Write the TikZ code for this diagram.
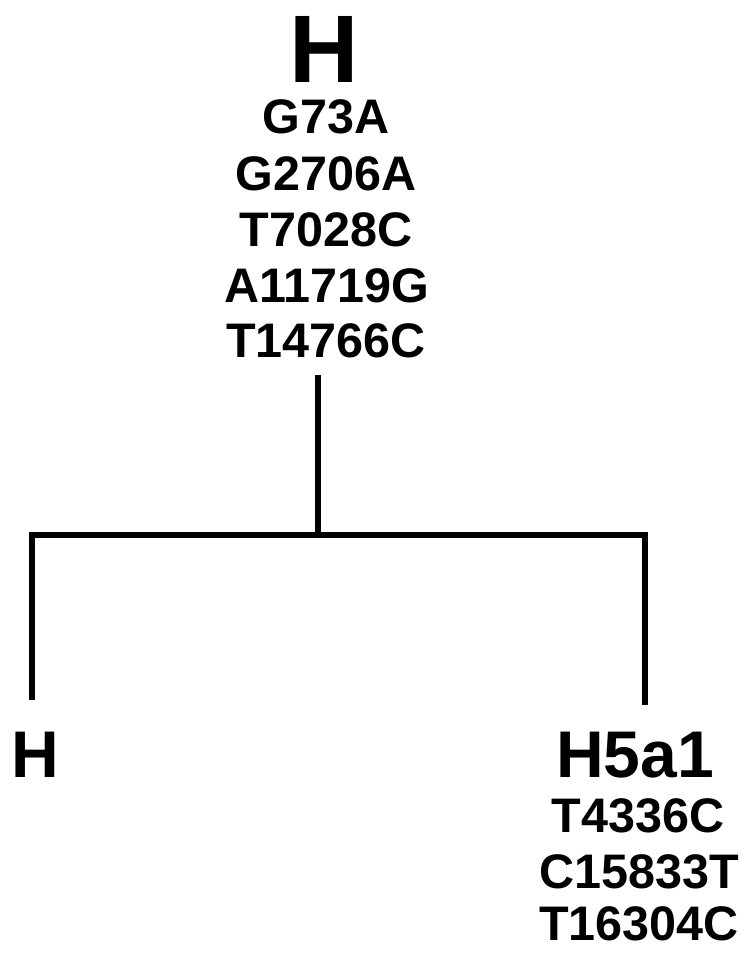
\documentclass[tikz,border=0pt]{standalone}
\usepackage{fontspec}
\setmainfont{Liberation Sans}
\begin{document}
\begin{tikzpicture}[x=1pt,y=-1pt,
  big/.style={font=\fontsize{96}{96}\selectfont\bfseries, inner sep=0pt, anchor=base},
  mid/.style={font=\fontsize{66}{66}\selectfont\bfseries, inner sep=0pt, anchor=base},
  mut/.style={font=\fontsize{48.5}{48.5}\selectfont\bfseries, inner sep=0pt, anchor=base},
  branch/.style={line width=5.5pt, line join=miter, line cap=butt}]
\path[use as bounding box] (0,0) rectangle (745,954);
% root
\node[big] (rootH) at (324,82) {H};
\node[mut] (m1) at (326,133) {G73A};
\node[mut] (m2) at (326,190) {G2706A};
\node[mut] (m3) at (326,246) {T7028C};
\node[mut] (m4) at (327,302) {A11719G};
\node[mut] (m5) at (326,357) {T14766C};
% leaves
\node[mid] (leafH) at (35,777) {H};
\node[mid] (leafH5) at (635,777) {H5a1};
\node[mut] (n1) at (638,832) {T4336C};
\node[mut] (n2) at (639,888) {C15833T};
\node[mut] (n3) at (639,940) {T16304C};
% connectors
\coordinate (top) at (318,375);
\coordinate (j) at (318,535);
\coordinate (lt) at (32,535);
\coordinate (rt) at (645,535);
\coordinate (lb) at (32,700);
\coordinate (rb) at (645,705);
\draw[branch] (top) -- (j);
\draw[branch] (lb) -- (lt) -- (rt) -- (rb);
\end{tikzpicture}
\end{document}
